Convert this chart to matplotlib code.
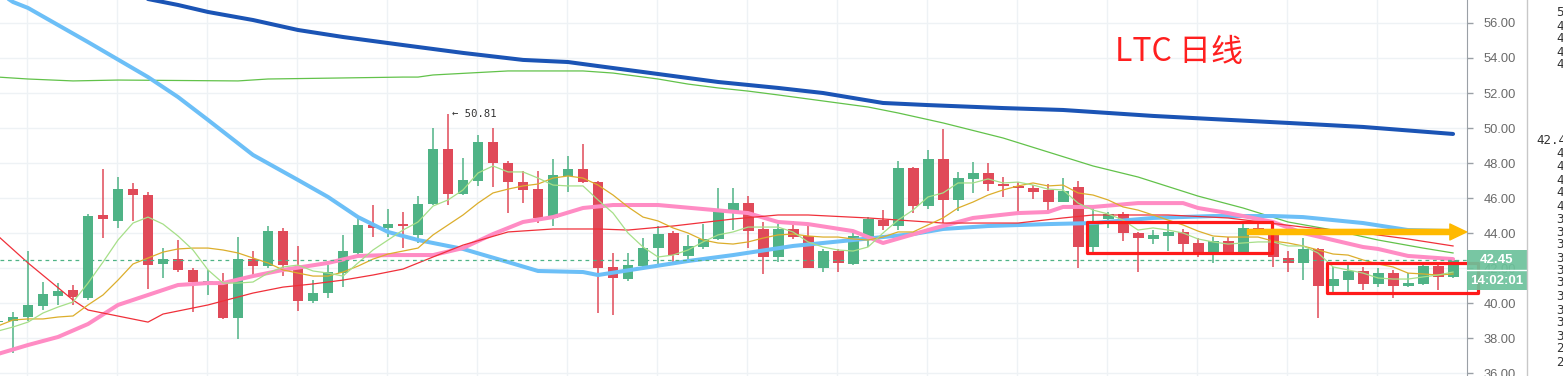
import numpy as np
import matplotlib.pyplot as plt
from matplotlib.patches import Rectangle
from matplotlib.lines import Line2D
from matplotlib.ticker import FormatStrFormatter
import matplotlib.transforms as mtransforms

plt.rcParams['font.family'] = ['Noto Sans CJK SC', 'DejaVu Sans']

# daily candles, index -1 is the half-hidden one on the left edge
idx = list(range(-1, 97))
opens = [38.92, 38.97, 39.22, 39.85, 40.42, 40.74, 40.27, 45.01, 44.70, 46.50,
         46.15, 42.25, 42.50, 41.90, 41.20, 41.13, 39.16, 42.50, 42.13, 44.11,
         42.02, 40.13, 40.55, 41.73, 42.84, 44.46, 44.30, 44.51, 43.89, 45.66,
         48.80, 46.23, 46.99, 49.18, 48.02, 46.93, 46.51, 44.84, 47.27, 47.66,
         46.93, 42.07, 41.37, 42.13, 43.16, 43.98, 42.70, 43.22, 43.64, 45.27,
         45.70, 44.21, 42.65, 44.21, 43.83, 42.02, 42.97, 42.21, 43.79, 44.74,
         44.42, 47.70, 45.54, 48.21, 45.89, 47.09, 47.41, 46.80, 46.70, 46.55,
         46.46, 45.79, 46.61, 43.22, 44.78, 45.09, 43.98, 43.66, 43.85, 44.04,
         43.41, 42.93, 43.54, 42.93, 44.30, 44.17, 42.55, 42.30, 43.09, 40.99,
         41.31, 41.83, 41.09, 41.70, 40.99, 41.07, 42.11, 41.47]
highs = [39.05, 39.49, 42.97, 41.22, 41.16, 41.03, 45.07, 47.66, 47.18, 46.84,
         46.36, 43.14, 43.60, 42.00, 41.89, 41.73, 43.75, 42.97, 44.40, 44.27,
         43.26, 41.31, 42.17, 43.89, 44.97, 45.60, 45.37, 45.22, 46.11, 49.98,
         50.81, 48.27, 49.60, 49.98, 48.13, 47.56, 47.56, 48.21, 48.40, 49.09,
         47.00, 42.87, 42.84, 43.73, 44.40, 44.11, 43.89, 44.50, 46.59, 46.55,
         46.13, 44.61, 44.50, 44.69, 44.51, 43.09, 43.09, 44.02, 44.90, 45.31,
         48.11, 47.79, 48.74, 49.94, 47.50, 48.07, 47.98, 47.18, 46.93, 46.74,
         46.78, 47.13, 46.97, 45.41, 45.22, 45.22, 44.07, 44.17, 44.51, 44.23,
         43.73, 43.79, 43.79, 44.55, 44.50, 44.65, 42.97, 43.70, 43.13, 42.07,
         42.27, 42.07, 41.98, 41.89, 41.70, 42.30, 42.30, 42.59]
lows = [38.88, 37.14, 38.97, 39.60, 39.89, 39.89, 40.20, 43.70, 44.27, 44.70,
        40.80, 41.43, 41.79, 39.50, 40.46, 39.07, 37.93, 41.60, 41.98, 41.54,
        39.54, 40.02, 40.27, 40.93, 42.80, 43.79, 43.79, 43.16, 43.41, 45.60,
        45.60, 46.20, 46.69, 46.61, 45.13, 45.70, 44.55, 44.40, 46.36, 46.84,
        39.41, 39.31, 41.26, 42.04, 42.23, 42.36, 42.46, 43.07, 43.60, 44.17,
        43.16, 41.64, 42.36, 43.66, 42.00, 41.75, 41.75, 42.20, 43.22, 44.17,
        44.17, 45.13, 45.35, 44.55, 45.27, 46.27, 46.42, 46.07, 45.22, 45.94,
        45.31, 45.75, 41.98, 42.93, 44.27, 43.56, 41.79, 43.35, 42.99, 42.93,
        42.61, 42.27, 42.93, 42.90, 43.89, 42.07, 41.79, 41.31, 39.16, 40.46,
        40.61, 40.74, 40.93, 40.27, 40.93, 41.05, 40.74, 41.45]
closes = [39.00, 39.20, 39.89, 40.51, 40.69, 40.36, 44.97, 44.78, 46.50, 46.19,
          42.19, 42.50, 41.90, 41.20, 41.25, 39.16, 42.50, 42.13, 44.11, 42.17,
          40.13, 40.55, 41.75, 42.97, 44.46, 44.30, 44.51, 44.42, 45.66, 48.80,
          46.23, 47.03, 49.18, 48.02, 46.93, 46.46, 44.87, 47.31, 47.66, 46.93,
          42.02, 41.45, 42.17, 43.14, 43.94, 42.74, 43.26, 43.64, 45.26, 45.73,
          44.13, 42.65, 44.21, 43.79, 42.02, 42.97, 42.27, 43.83, 44.78, 44.42,
          47.70, 45.54, 48.21, 45.89, 47.13, 47.41, 46.78, 46.69, 46.55, 46.36,
          45.79, 46.40, 43.18, 44.55, 45.09, 43.98, 43.70, 43.89, 44.04, 43.37,
          42.93, 43.54, 42.93, 44.30, 44.13, 42.61, 42.30, 43.07, 40.99, 41.37,
          41.83, 41.09, 41.70, 40.99, 41.16, 42.11, 41.47, 42.45]

# moving averages
ma5 = [38.40, 38.63, 38.91, 39.43, 39.77, 40.06, 41.14, 42.34, 43.60, 44.57,
       44.91, 44.51, 43.83, 43.03, 41.89, 41.14, 41.14, 41.20, 41.71, 42.06,
       42.17, 41.83, 41.71, 41.54, 42.29, 43.03, 43.60, 44.17, 44.63, 45.54,
       45.89, 46.46, 47.43, 47.83, 47.49, 47.49, 47.14, 46.74, 46.69, 46.69,
       45.89, 45.14, 44.00, 43.20, 42.63, 42.74, 43.03, 43.49, 43.89, 44.06,
       44.34, 44.34, 44.34, 44.06, 43.49, 43.20, 43.03, 42.97, 43.20, 44.00,
       44.74, 45.31, 46.06, 46.29, 46.86, 46.86, 47.09, 46.86, 46.91, 46.74,
       46.51, 46.46, 45.71, 45.31, 45.09, 44.74, 44.17, 44.29, 44.17, 44.00,
       43.66, 43.49, 43.37, 43.43, 43.49, 43.49, 43.26, 43.26, 42.86, 42.06,
       41.89, 41.71, 41.43, 41.37, 41.37, 41.49, 41.60, 41.77]
ma10 = [38.69, 39.03, 39.09, 39.09, 39.20, 39.26, 39.89, 40.46, 41.31, 42.23,
        42.57, 42.91, 43.09, 43.14, 43.14, 43.03, 42.86, 42.57, 42.29, 41.89,
        41.71, 41.54, 41.54, 41.77, 42.11, 42.51, 42.80, 42.97, 43.14, 43.89,
        44.46, 45.03, 45.71, 46.29, 46.51, 46.69, 46.80, 47.14, 47.26, 47.14,
        46.74, 46.17, 45.49, 44.91, 44.69, 44.29, 44.00, 43.60, 43.43, 43.37,
        43.49, 43.71, 43.89, 43.94, 43.83, 43.77, 43.77, 43.66, 43.60, 43.77,
        44.06, 44.06, 44.46, 44.86, 45.43, 45.77, 46.17, 46.46, 46.69, 46.86,
        46.69, 46.74, 46.29, 46.17, 45.89, 45.49, 45.31, 45.03, 44.74, 44.46,
        44.11, 43.83, 43.77, 43.77, 43.77, 43.54, 43.43, 43.26, 43.03, 42.80,
        42.74, 42.46, 42.23, 42.06, 41.71, 41.66, 41.60, 41.66]

red_idx = [-1, 1, 4, 5, 9, 10, 13, 16, 18, 20, 22, 24, 26, 28, 30, 33, 36, 39,
           41, 44, 48, 51, 53, 57, 62, 67, 70, 72, 77, 81, 86, 90, 93, 96]
red_ma = [43.83, 42.29, 40.17, 39.60, 38.91, 39.37, 39.89, 40.57, 40.91, 41.09,
          41.31, 41.60, 41.94, 42.63, 43.31, 44.06, 44.23, 44.23, 44.17, 44.40,
          44.80, 45.03, 45.03, 44.86, 44.57, 44.57, 44.86, 45.03, 45.03, 44.86,
          44.34, 44.00, 43.66, 43.26]

pink_idx = [-1, 1, 3, 5, 7, 9, 11, 13, 14, 16, 18, 21, 23, 25, 28, 30, 32, 34,
            36, 38, 40, 43, 46, 49, 51, 53, 56, 58, 61, 64, 67, 69, 70, 72, 75,
            78, 79, 81, 84, 86, 88, 90, 91, 93, 95, 96]
pink_ma = [37.09, 37.60, 38.06, 38.80, 39.89, 40.46, 41.03, 41.14, 41.14, 41.54,
           41.89, 42.29, 42.69, 42.74, 42.74, 43.14, 43.94, 44.63, 44.91, 45.43,
           45.60, 45.60, 45.37, 45.14, 44.63, 44.51, 44.11, 43.43, 44.17, 44.86,
           45.14, 45.20, 45.49, 45.49, 45.71, 45.71, 45.43, 45.14, 44.63, 44.00,
           43.60, 43.20, 43.09, 42.69, 42.57, 42.51]

sky_idx = [-1, 0, 1, 5, 9, 11, 13, 16, 19, 21, 23, 25, 27, 30, 33, 35, 38, 39,
           42, 45, 48, 52, 56, 60, 62, 65, 69, 72, 76, 80, 84, 86, 90, 93, 96]
sky_ma = [57.77, 57.20, 56.86, 54.91, 52.91, 51.77, 50.46, 48.46, 47.03, 46.06,
          44.91, 44.06, 43.60, 43.09, 42.34, 41.83, 41.77, 41.60, 42.00, 42.40,
          42.74, 43.26, 43.60, 43.94, 44.23, 44.40, 44.51, 44.57, 44.86, 44.97,
          44.97, 44.91, 44.57, 44.17, 44.11]

green_idx = [-1, 1, 4, 7, 15, 17, 22, 26, 27, 28, 33, 38, 40, 43, 45, 47, 49,
             51, 53, 57, 59, 62, 66, 69, 72, 75, 79, 82, 85, 88, 91, 94, 96]
green_ma = [52.91, 52.80, 52.69, 52.74, 52.69, 52.80, 52.86, 52.91, 52.91, 53.03,
            53.26, 53.26, 53.14, 52.80, 52.51, 52.29, 52.11, 51.89, 51.66, 51.20,
            50.86, 50.29, 49.43, 48.63, 47.83, 47.20, 46.11, 45.43, 44.63, 44.17,
            43.60, 43.14, 42.86]

navy_idx = [8, 11, 13, 16, 19, 22, 26, 30, 34, 37, 39, 42, 47, 51, 54, 58, 61,
            66, 70, 76, 80, 85, 90, 96]
navy_ma = [57.54, 57.03, 56.63, 56.17, 55.60, 55.20, 54.74, 54.29, 53.89, 53.77,
           53.54, 53.20, 52.63, 52.29, 52.00, 51.43, 51.31, 51.14, 51.03, 50.69,
           50.51, 50.29, 50.06, 49.66]

price_ticks = list(range(36, 57, 2))
title = 'LTC 日线'

GREEN = '#4fb386'
RED = '#e04a59'

W, H = 1563, 376
fig = plt.figure(figsize=(W / 100, H / 100), dpi=100)
ax = fig.add_axes([0, 0, 1467 / W, 1])
ax.set_xlim(-0.867, 96.93)
ax.set_ylim(35.83, 57.314)

# grid
ax.set_yticks(price_ticks)
ax.set_xticks(np.arange(1, 97, 6) - 0.07)
ax.grid(True, color='#eef2f5', lw=1.0, zorder=0)
ax.tick_params(axis='x', length=0, labelbottom=False)
ax.yaxis.tick_right()
ax.yaxis.set_major_formatter(FormatStrFormatter('%.2f'))
ax.tick_params(axis='y', length=4, width=1, color='#9aa0a6', labelcolor='#6a6a6a',
               labelsize=9.3, pad=8)
for lbl in ax.get_yticklabels():
    lbl.set_fontfamily('Liberation Sans')
for s in ['left', 'top', 'bottom']:
    ax.spines[s].set_visible(False)
ax.spines['right'].set_color('#9aa0a6')

# candles
o = np.array(opens)
c = np.array(closes)
col = np.where(c >= o, GREEN, RED)
ax.vlines(idx, lows, highs, colors=col, linewidth=1.1, zorder=2)
ax.bar(idx, np.maximum(np.abs(c - o), 0.07), bottom=np.minimum(o, c), width=0.73,
       color=col, linewidth=0, zorder=3)

# moving averages
ax.plot(navy_idx, navy_ma, color='#1b54b5', lw=2.9, zorder=4, solid_capstyle='round')
ax.plot(green_idx, green_ma, color='#62c24a', lw=0.9, zorder=4)
ax.plot(sky_idx, sky_ma, color='#6cbff7', lw=2.9, zorder=4, solid_capstyle='round')
ax.plot(pink_idx, pink_ma, color='#ff8cc4', lw=2.9, zorder=4, solid_capstyle='round')
ax.plot(red_idx, red_ma, color='#f0303a', lw=0.9, zorder=5)
ax.plot(idx, ma10, color='#dcae2c', lw=0.9, zorder=5)
ax.plot(idx, ma5, color='#a6df88', lw=0.9, zorder=5)

# last price line
ax.axhline(closes[-1], color=GREEN, lw=0.9, ls=(0, (3, 3)), zorder=5)

# high marker
ax.text(29.27, highs[30], '← 50.81', family='DejaVu Sans Mono', fontsize=7.6,
        color='#333333', ha='left', va='center', zorder=6)

# boxes and arrow
ax.add_patch(Rectangle((71.6, 42.86), 12.33, 1.77, fill=False, ec='#ff1a1a', lw=2.3,
                       joinstyle='round', zorder=7))
ax.add_patch(Rectangle((87.6, 40.57), 10.07, 1.72, fill=False, ec='#ff1a1a', lw=2.3,
                       joinstyle='round', zorder=7, clip_on=False))
ax.annotate('', xy=(96.9, 44.06), xytext=(82.3, 44.06), zorder=8,
            arrowprops=dict(arrowstyle='simple,head_length=1.2,head_width=1.15,tail_width=0.37',
                            color='#ffb900', shrinkA=0, shrinkB=0, mutation_scale=10))

fig.text(1115 / W, 1 - 52 / H, title, color='#ff1f1f', fontsize=23, ha='left', va='center')

# price box on the axis
bt = mtransforms.blended_transform_factory(fig.transFigure, ax.transData)
ax.add_patch(Rectangle((1467 / W, closes[-1] - 1.72), 60 / W, 2.29, transform=bt,
                       fc='#6cc29b', ec='none', alpha=0.92, clip_on=False, zorder=9))
ax.add_artist(Line2D([1467 / W, 1527 / W], [closes[-1] - 0.57] * 2, transform=bt,
                     color='white', lw=1, clip_on=False, zorder=10))
ax.text(1497 / W, closes[-1], '%.2f' % closes[-1], transform=bt, color='white',
        fontsize=9.5, fontweight='bold', family='Liberation Sans', ha='center',
        va='center', clip_on=False, zorder=11)
ax.text(1497 / W, closes[-1] - 1.17, '14:02:01', transform=bt, color='white',
        fontsize=9.5, fontweight='bold', family='Liberation Sans', ha='center',
        va='center', clip_on=False, zorder=11)

# neighbouring scale, cut by the picture edge
fig.add_artist(Line2D([1527 / W] * 2, [0, 1], color='#c8c8c8', lw=1))
side_y = [13, 26, 39, 52, 64, 154, 167, 180, 193, 206, 219, 232, 245, 258, 271,
          283, 297, 310, 323, 336, 349, 362]
side_txt = ['5', '4', '4', '4', '4', '4', '4', '4', '4', '4', '3', '3', '3', '3',
            '3', '3', '3', '3', '3', '3', '2', '2']
for yy, tt in zip(side_y, side_txt):
    fig.text(1556 / W, 1 - yy / H, tt + '0.0', family='DejaVu Sans Mono', fontsize=9,
             color='#333333', ha='left', va='center')
fig.text(1536 / W, 1 - 141 / H, '42.45', family='DejaVu Sans Mono', fontsize=9,
         color='#333333', ha='left', va='center')

fig.savefig('out.png', dpi=100)
